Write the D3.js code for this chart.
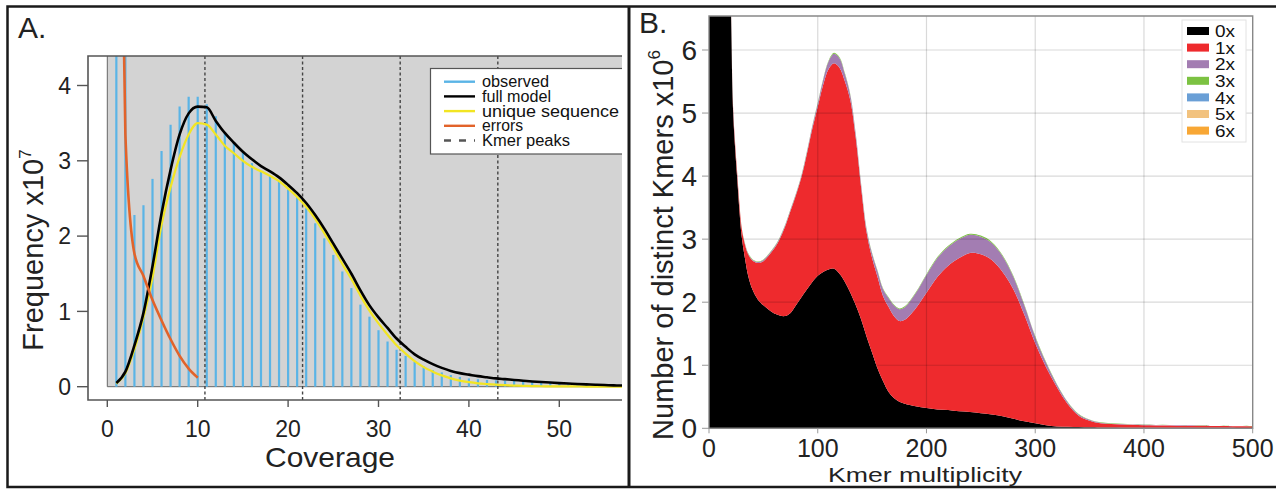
<!DOCTYPE html>
<html>
<head>
<meta charset="utf-8">
<script src="https://cdnjs.cloudflare.com/ajax/libs/d3/7.8.5/d3.min.js"></script>
<style>
  body { margin: 0; background: #fff; }
  svg { display: block; font-family: "Liberation Sans", Arial, sans-serif; }
</style>
</head>
<body>
<svg id="fig" width="1276" height="489"></svg>
<script>
/*** DATA: panel A (coverage histogram, x10^7) ***/
var coverage = [1,2,3,4,5,6,7,8,9,10,11,12,13,14,15,16,17,18,19,20,21,22,23,24,25,26,27,28,29,30,
  31,32,33,34,35,36,37,38,39,40,41,42,43,44,45,46,47,48,49,50,51,52,53,54,55,56,57];
var observed = [6,5,2.28,2.41,2.76,3.13,3.48,3.72,3.85,3.85,3.75,3.59,3.38,3.25,3.11,2.97,2.86,2.8,2.73,2.62,
  2.53,2.37,2.17,1.97,1.75,1.53,1.31,1.09,0.93,0.75,0.6,0.49,0.41,0.33,0.27,0.22,0.19,0.155,0.13,0.11,
  0.1,0.09,0.085,0.08,0.075,0.07,0.065,0.06,0.055,0.05,0.047,0.044,0.04,0.037,0.035,0.032,0.03];
var fullModel = [0.05,0.2,0.55,0.98,1.6,2.3,2.88,3.35,3.63,3.72,3.71,3.53,3.37,3.24,3.12,3.02,2.93,2.86,2.78,2.68,
  2.57,2.44,2.28,2.1,1.9,1.7,1.5,1.28,1.08,0.92,0.78,0.64,0.53,0.43,0.36,0.3,0.25,0.21,0.18,0.16,
  0.14,0.125,0.11,0.1,0.09,0.08,0.07,0.062,0.055,0.048,0.042,0.036,0.031,0.026,0.022,0.018,0.015];
var uniqueSeq = [0.04,0.18,0.5,0.92,1.45,2.15,2.65,3.05,3.35,3.5,3.48,3.35,3.2,3.1,3.0,2.92,2.86,2.8,2.73,2.63,
  2.52,2.39,2.23,2.04,1.84,1.63,1.43,1.21,1.01,0.84,0.69,0.55,0.44,0.34,0.26,0.2,0.15,0.11,0.08,0.06,
  0.045,0.035,0.027,0.02,0.015,0.011,0.008,0.006,0.005,0.004,0.003,0.003,0.002,0.002,0.002,0.001,0.001];
var errCoverage = [1,2,3,4,5,6,7,8,9,10];
var errors = [10.8,3.35,1.77,1.47,1.15,0.88,0.63,0.41,0.24,0.12];
var kmerPeaks = [10.8,21.6,32.4,43.2];
var legendA = ["observed","full model","unique sequence","errors","Kmer peaks"];
var xTicksA = [0,10,20,30,40,50];
var yTicksA = [0,1,2,3,4];

/*** DATA: panel B (stacked copy-number spectrum, x10^6) ***/
var multiplicity = [0,5,10,15,20,22,24,26,28,30,33,36,40,45,50,55,60,65,70,75,80,85,90,95,100,
  105,110,115,120,125,130,135,140,145,150,155,160,165,170,175,180,190,200,210,220,230,240,250,260,270,
  280,290,300,310,320,330,340,350,360,380,400,450,500];
var copy0 = [20,18,14,10,6.8,5.1,4.45,3.95,3.45,3.05,2.7,2.42,2.2,2.04,1.95,1.88,1.82,1.79,1.78,1.83,1.95,2.08,2.2,2.32,2.42,
  2.48,2.52,2.53,2.45,2.32,2.15,1.95,1.72,1.45,1.2,0.95,0.75,0.58,0.48,0.42,0.39,0.35,0.32,0.3,0.29,0.27,0.26,0.24,0.22,0.19,
  0.15,0.11,0.08,0.05,0.03,0.025,0.02,0.015,0.012,0.01,0.01,0.008,0.005];
var copy1 = [0.05,0.05,0.05,0.05,0.06,0.06,0.07,0.08,0.1,0.13,0.22,0.34,0.46,0.58,0.7,0.86,1.03,1.21,1.42,1.62,1.75,1.9,2.15,2.43,2.68,
  2.97,3.18,3.26,3.27,3.18,3.05,2.65,2.08,1.65,1.5,1.45,1.35,1.35,1.3,1.28,1.33,1.55,1.83,2.1,2.29,2.43,2.52,2.52,2.45,2.29,
  2.05,1.69,1.27,0.92,0.62,0.355,0.18,0.105,0.068,0.05,0.04,0.032,0.025];
var copy2 = [0.01,0.01,0.01,0.01,0.01,0.01,0.01,0.01,0.01,0.01,0.01,0.012,0.015,0.018,0.02,0.02,0.02,0.02,0.02,0.02,0.02,0.025,0.03,0.04,0.05,
  0.08,0.12,0.15,0.15,0.12,0.08,0.06,0.05,0.05,0.07,0.09,0.11,0.14,0.17,0.19,0.2,0.24,0.28,0.3,0.3,0.3,0.29,0.28,0.27,0.25,
  0.2,0.15,0.1,0.07,0.04,0.03,0.02,0.015,0.01,0.008,0.006,0.005,0.004];
var copy3 = [0.008,0.008,0.008,0.008,0.008,0.008,0.008,0.008,0.008,0.008,0.008,0.008,0.008,0.008,0.008,0.008,0.008,0.008,0.008,0.008,0.008,0.008,0.01,0.01,0.012,
  0.012,0.014,0.015,0.015,0.014,0.012,0.012,0.012,0.012,0.012,0.012,0.012,0.012,0.012,0.012,0.014,0.014,0.015,0.015,0.016,0.016,0.016,0.016,0.016,0.015,
  0.015,0.014,0.012,0.01,0.01,0.008,0.008,0.006,0.006,0.005,0.005,0.004,0.004];
var copyKeys = ["0x","1x","2x","3x","4x","5x","6x"];
var copyColors = ["#000000","#ee2a2d","#a37db2","#7cc242","#6a9fd6","#f2c27e","#f8a735"];
var xTicksB = [0,100,200,300,400,500];
var yTicksB = [0,1,2,3,4,5,6];

var svg = d3.select("#fig");
svg.append("rect").attr("width", 1276).attr("height", 489).attr("fill", "#fff");

/*** PANEL A ***/
function drawPanelA() {
  var left = 107.3, right = 622, top = 56, bottom = 386.7, frameL = 88, frameB = 400;
  var x = d3.scaleLinear().domain([0, 57]).range([left, left + 57 * 9.04]);
  var y = d3.scaleLinear().domain([0, 4]).range([bottom, bottom - 4 * 75.3]);

  svg.append("clipPath").attr("id", "clipA")
    .append("rect").attr("x", frameL).attr("y", top).attr("width", right - frameL).attr("height", frameB - top);
  var g = svg.append("g");
  var plot = g.append("g").attr("clip-path", "url(#clipA)");

  // gray panel
  plot.append("rect").attr("x", left).attr("y", top).attr("width", right - left).attr("height", bottom - top)
    .attr("fill", "#d3d3d3");
  plot.append("path").attr("d", "M" + left + "," + top + "V" + bottom + "H" + right)
    .attr("fill", "none").attr("stroke", "#666").attr("stroke-width", 1);

  // observed bars
  plot.append("g").selectAll("line").data(coverage).enter().append("line")
    .attr("x1", d => x(d)).attr("x2", d => x(d))
    .attr("y1", y(0)).attr("y2", (d, i) => y(observed[i]))
    .attr("stroke", "#5ab4e6").attr("stroke-width", 2.2);

  // kmer peak lines
  plot.append("g").selectAll("line").data(kmerPeaks).enter().append("line")
    .attr("x1", d => x(d)).attr("x2", d => x(d))
    .attr("y1", top).attr("y2", frameB)
    .attr("stroke", "#444").attr("stroke-width", 1.4).attr("stroke-dasharray", "3,2.5");

  var line = d3.line().x(d => x(d[0])).y(d => y(d[1])).curve(d3.curveMonotoneX);
  plot.append("path").datum(coverage.map((c, i) => [c, uniqueSeq[i]]))
    .attr("d", line).attr("fill", "none").attr("stroke", "#f2e522").attr("stroke-width", 2.2);
  plot.append("path").datum(coverage.map((c, i) => [c, fullModel[i]]))
    .attr("d", line).attr("fill", "none").attr("stroke", "#000").attr("stroke-width", 2.6);
  plot.append("path").datum(errCoverage.map((c, i) => [c, errors[i]]))
    .attr("d", line).attr("fill", "none").attr("stroke", "#e2632a").attr("stroke-width", 2.6);

  // legend
  var lg = plot.append("g");
  lg.append("rect").attr("x", 430.5).attr("y", 68.5).attr("width", 220).attr("height", 85.5)
    .attr("fill", "#fff").attr("stroke", "#555").attr("stroke-width", 1.2);
  var legStroke = ["#5ab4e6", "#000", "#f2e522", "#e2632a", "#555"];
  var legWidth = [67, 69, 137, 41, 88];
  var items = lg.selectAll("g.item").data(legendA).enter().append("g")
    .attr("transform", (d, i) => "translate(0," + (81.7 + i * 14.7) + ")");
  items.append("line").attr("x1", 444).attr("x2", 475)
    .attr("stroke", (d, i) => legStroke[i]).attr("stroke-width", 2.4)
    .attr("stroke-dasharray", (d, i) => i === 4 ? "7,8" : null);
  items.append("text").attr("x", 482).attr("dy", "0.35em").attr("font-size", "16px").attr("fill", "#111")
    .attr("textLength", (d, i) => legWidth[i]).attr("lengthAdjust", "spacingAndGlyphs")
    .text(d => d);

  // frame
  g.append("path").attr("d", "M" + right + "," + top + "H" + frameL + "V" + frameB + "H" + right)
    .attr("fill", "none").attr("stroke", "#555").attr("stroke-width", 1.6);

  // axes
  g.append("g").selectAll("line").data(yTicksA).enter().append("line")
    .attr("x1", frameL - 11).attr("x2", frameL).attr("y1", d => y(d)).attr("y2", d => y(d))
    .attr("stroke", "#555").attr("stroke-width", 1.4);
  g.append("g").selectAll("text").data(yTicksA).enter().append("text")
    .attr("x", 71).attr("y", d => y(d)).attr("dy", "0.36em").attr("text-anchor", "end")
    .attr("font-size", "23px").attr("fill", "#222").text(d => d);
  g.append("g").selectAll("line").data(xTicksA).enter().append("line")
    .attr("x1", d => x(d)).attr("x2", d => x(d)).attr("y1", frameB).attr("y2", frameB + 7)
    .attr("stroke", "#555").attr("stroke-width", 1.4);
  g.append("g").selectAll("text").data(xTicksA).enter().append("text")
    .attr("x", d => x(d)).attr("y", 437).attr("text-anchor", "middle")
    .attr("font-size", "23px").attr("fill", "#222").text(d => d);

  g.append("text").attr("x", 330).attr("y", 467).attr("text-anchor", "middle")
    .attr("font-size", "28px").attr("fill", "#222")
    .attr("textLength", 130).attr("lengthAdjust", "spacingAndGlyphs").text("Coverage");
  var yl = g.append("text").attr("transform", "translate(43,250) rotate(-90)").attr("text-anchor", "middle")
    .attr("font-size", "29px").attr("fill", "#222");
  yl.append("tspan").text("Frequency x10");
  yl.append("tspan").attr("font-size", "17px").attr("dy", -12).text("7");

  g.append("text").attr("x", 18).attr("y", 38).attr("font-size", "30px").attr("fill", "#222").text("A.");
}

/*** PANEL B ***/
function drawPanelB() {
  var left = 709, right = 1252.7, top = 16, bottom = 428.3;
  var x = d3.scaleLinear().domain([0, 500]).range([left, right]);
  var y = d3.scaleLinear().domain([0, 6]).range([bottom, bottom - 6 * 63.05]);

  var table = multiplicity.map((m, i) => ({
    m: m, "0x": copy0[i], "1x": copy1[i], "2x": copy2[i], "3x": copy3[i]
  }));
  var series = d3.stack().keys(["0x", "1x", "2x", "3x"])(table);

  svg.append("clipPath").attr("id", "clipB")
    .append("rect").attr("x", left).attr("y", top).attr("width", right - left).attr("height", bottom - top);
  var g = svg.append("g");
  var plot = g.append("g").attr("clip-path", "url(#clipB)");

  var area = d3.area().x(d => x(d.data.m)).y0(d => y(d[0])).y1(d => y(d[1]))
    .curve(d3.curveCatmullRom.alpha(0.5));
  plot.selectAll("path.layer").data(series).enter().append("path")
    .attr("class", "layer")
    .attr("d", area)
    .attr("fill", d => copyColors[copyKeys.indexOf(d.key)]);

  // grid on top, faint
  plot.append("g").selectAll("line").data(xTicksB.slice(1, 5)).enter().append("line")
    .attr("x1", d => x(d)).attr("x2", d => x(d)).attr("y1", top).attr("y2", bottom)
    .attr("stroke", "rgba(0,0,0,0.15)").attr("stroke-width", 1.2);
  plot.append("g").selectAll("line").data(yTicksB.slice(1)).enter().append("line")
    .attr("x1", left).attr("x2", right).attr("y1", d => y(d)).attr("y2", d => y(d))
    .attr("stroke", "rgba(0,0,0,0.15)").attr("stroke-width", 1.2);

  g.append("path").attr("d", "M" + left + "," + top + "H" + right + "V" + bottom + "H" + left + "Z")
    .attr("fill", "none").attr("stroke", "#888").attr("stroke-width", 1.4);

  // legend
  var lg = g.append("g");
  lg.append("rect").attr("x", 1182).attr("y", 20).attr("width", 64).attr("height", 122)
    .attr("fill", "#fff").attr("stroke", "#e2e2e2");
  var items = lg.selectAll("g.item").data(copyKeys).enter().append("g")
    .attr("transform", (d, i) => "translate(0," + (31 + i * 16.6) + ")");
  items.append("rect").attr("x", 1187).attr("y", -4).attr("width", 22).attr("height", 8)
    .attr("fill", (d, i) => copyColors[i]);
  items.append("text").attr("x", 1215).attr("dy", "0.36em").attr("font-size", "17px").attr("fill", "#111")
    .attr("textLength", 20).attr("lengthAdjust", "spacingAndGlyphs")
    .text(d => d);

  // axes
  g.append("g").selectAll("line").data(yTicksB).enter().append("line")
    .attr("x1", left - 7).attr("x2", left).attr("y1", d => y(d)).attr("y2", d => y(d))
    .attr("stroke", "#999").attr("stroke-width", 1);
  g.append("g").selectAll("text").data(yTicksB).enter().append("text")
    .attr("x", 697).attr("y", d => y(d)).attr("dy", "0.36em").attr("text-anchor", "end")
    .attr("font-size", "28px").attr("fill", "#222").text(d => d);
  g.append("g").selectAll("line").data(xTicksB).enter().append("line")
    .attr("x1", d => x(d)).attr("x2", d => x(d)).attr("y1", bottom).attr("y2", bottom + 5)
    .attr("stroke", "#999").attr("stroke-width", 1);
  g.append("g").selectAll("text").data(xTicksB).enter().append("text")
    .attr("x", d => x(d)).attr("y", 457).attr("text-anchor", "middle")
    .attr("font-size", "25px").attr("fill", "#222").text(d => d);

  g.append("text").attr("x", 925).attr("y", 482).attr("text-anchor", "middle")
    .attr("font-size", "21px").attr("fill", "#222")
    .attr("textLength", 194).attr("lengthAdjust", "spacingAndGlyphs").text("Kmer multiplicity");
  var yl = g.append("text").attr("transform", "translate(673,245) rotate(-90)").attr("text-anchor", "middle")
    .attr("font-size", "29px").attr("fill", "#222");
  yl.append("tspan").text("Number of distinct Kmers x10");
  yl.append("tspan").attr("font-size", "17px").attr("dy", -13).text("6");

  g.append("text").attr("x", 639).attr("y", 33).attr("font-size", "30px").attr("fill", "#222").text("B.");
}

drawPanelA();
drawPanelB();

// figure borders
svg.append("path").attr("d", "M1276,6.5H7.5V487H1276")
  .attr("fill", "none").attr("stroke", "#1a1a1a").attr("stroke-width", 2.5);
svg.append("line").attr("x1", 629).attr("x2", 629).attr("y1", 6).attr("y2", 488)
  .attr("stroke", "#1a1a1a").attr("stroke-width", 3);
</script>
</body>
</html>
